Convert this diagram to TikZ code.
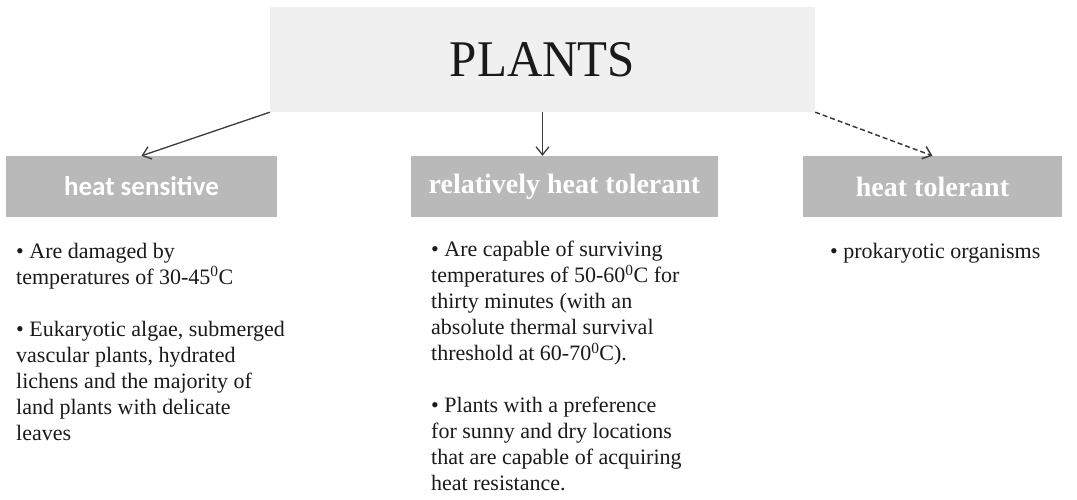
\documentclass[tikz,border=0pt]{standalone}
\usepackage{fontspec}
\setmainfont{Liberation Serif}
\newfontfamily\calfont{Carlito}
\usepackage{xcolor}
\definecolor{Pale}{HTML}{F0F0F0}
\definecolor{Head}{HTML}{B9B9B9}
\definecolor{Ink}{HTML}{1A1A1A}
\definecolor{Wire}{HTML}{3C3C3C}
\usetikzlibrary{arrows.meta}
\tikzset{
  topbox/.style={fill=Pale,minimum width=545pt,minimum height=105pt,inner sep=0pt,
    font=\fontsize{49}{52}\selectfont,text=Ink},
  headbox/.style={fill=Head,minimum height=61pt,inner sep=0pt,text=white,
    font=\fontsize{28}{30}\selectfont\bfseries},
  bodytext/.style={anchor=north west,inner sep=0pt,align=left,text=Ink,
    font=\fontsize{22}{26}\selectfont},
  arrow/.style={-{Straight Barb[length=8pt,width=13pt]},line width=1.3pt,color=Wire},
  dashedarrow/.style={arrow,line width=1.5pt,dash pattern=on 5pt off 3pt}
}

\begin{document}
\begin{tikzpicture}[x=1pt,y=-1pt]
  \useasboundingbox (0,0) rectangle (1077,499);
  \node[topbox] (plants) at (542.5,59.5) {\scalebox{1}[1.05]{PLANTS}};
  \node[headbox,minimum width=271pt,font=\fontsize{27}{30}\selectfont\calfont\bfseries]
    (sens) at (141.5,186.5) {heat sensitive};
  \node[headbox,minimum width=307pt] (rel) at (564.5,186.5) {relatively heat tolerant};
  \node[headbox,minimum width=259pt] (tol) at (932.5,186.5) {heat tolerant};
  \node[bodytext] (senstext) at (16,243)
    {• Are damaged by\\ temperatures of 30-45\textsuperscript{0}C\\[26pt]
     • Eukaryotic algae, submerged\\ vascular plants, hydrated\\
     lichens and the majority of\\ land plants with delicate\\ leaves};
  \node[bodytext] (reltext) at (431,241)
    {• Are capable of surviving\\ temperatures of 50-60\textsuperscript{0}C for\\
     thirty minutes (with an\\ absolute thermal survival\\
     threshold at 60-70\textsuperscript{0}C).\\[26pt]
     • Plants with a preference\\ for sunny and dry locations\\
     that are capable of acquiring\\ heat resistance.};
  \node[bodytext] (toltext) at (830,243) {• prokaryotic organisms};
  \draw[arrow] (plants.south west) -- (sens.north);
  \draw[arrow] (plants.south) -- (plants.south |- rel.north);
  \draw[dashedarrow] (plants.south east) -- (tol.north);
\end{tikzpicture}
\end{document}
